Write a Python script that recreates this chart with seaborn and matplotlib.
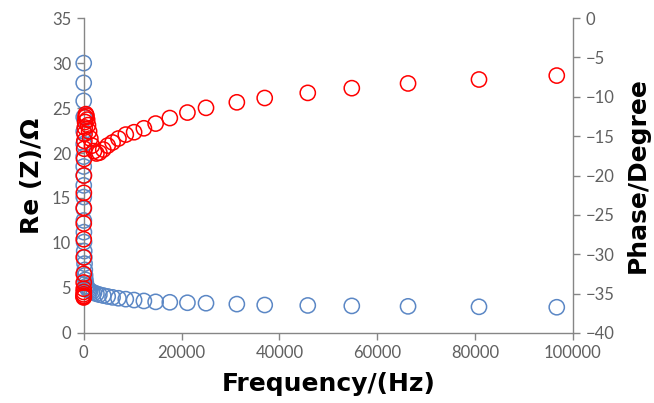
import matplotlib
matplotlib.use("Agg")
import matplotlib.pyplot as plt
import seaborn as sns
import pandas as pd

# frequency (Hz), real part of impedance (ohm), phase (degree)
freq = [0.1, 0.16, 0.25, 0.4, 0.63, 1.0, 1.6, 2.5, 4.0, 6.3,
        10, 16, 25, 40, 63, 100, 130, 170, 220, 280,
        350, 440, 560, 700, 870, 1100, 1350, 1700, 2100, 2600,
        3200, 4000, 4900, 5900, 7100, 8600, 10300, 12300, 14700, 17600,
        21200, 25000, 31300, 37000, 45800, 54800, 66300, 80800, 96700]
re_z = [30.0, 27.8, 25.8, 24.0, 22.4, 21.0, 19.6, 18.5, 17.5, 16.4,
        15.1, 13.8, 12.5, 11.2, 10.1, 9.1, 8.4, 7.7, 7.0, 6.4,
        5.9, 5.5, 5.2, 5.0, 4.85, 4.75, 4.65, 4.55, 4.45, 4.35,
        4.25, 4.15, 4.05, 3.95, 3.85, 3.75, 3.65, 3.55, 3.45, 3.4,
        3.35, 3.3, 3.2, 3.1, 3.05, 3.0, 2.95, 2.9, 2.85]
phase = [-35.5, -35.4, -35.3, -35.1, -34.8, -34.4, -33.6, -32.5, -30.4, -28.1,
         -26.1, -24.1, -22.2, -20.0, -17.9, -16.6, -15.6, -14.7, -13.9, -13.2,
         -12.6, -12.2, -12.4, -12.9, -13.6, -14.4, -15.3, -16.2, -16.9, -17.2,
         -17.1, -16.7, -16.2, -15.8, -15.3, -14.8, -14.5, -14.0, -13.4, -12.7,
         -12.0, -11.4, -10.7, -10.15, -9.5, -8.9, -8.3, -7.8, -7.3]

xticks = [0, 20000, 40000, 60000, 80000, 100000]
left_ticks = [0, 5, 10, 15, 20, 25, 30, 35]
right_ticks = [-40, -35, -30, -25, -20, -15, -10, -5, 0]

df = pd.DataFrame({"freq": freq, "re": re_z, "phase": phase})

sns.set_style("white")
plt.rcParams["font.family"] = ["Lato", "DejaVu Sans"]

grey = "#868686"
tick_col = "#606060"

fig = plt.figure(figsize=(6.54, 4.03), dpi=100)
ax = fig.add_axes([0.128, 0.174, 0.748, 0.781])
ax2 = ax.twinx()

sns.scatterplot(data=df, x="freq", y="re", ax=ax, marker="o", s=120,
                facecolor="none", edgecolor="#5B87C5", linewidth=1.1, clip_on=False)
sns.scatterplot(data=df, x="freq", y="phase", ax=ax2, marker="o", s=120,
                facecolor="none", edgecolor="#FF0000", linewidth=1.1, clip_on=False)

ax.set_xlim(0, 100000)
ax.set_ylim(0, 35)
ax2.set_ylim(-40, 0)
ax.set_xticks(xticks)
ax.set_yticks(left_ticks)
ax2.set_yticks(right_ticks)
ax.set_xticklabels([str(t) for t in xticks])

for a in (ax, ax2):
    a.spines["top"].set_visible(False)
    for s in ("left", "right", "bottom"):
        a.spines[s].set_color(grey)
        a.spines[s].set_linewidth(1.0)
    a.tick_params(colors=grey, labelcolor=tick_col, labelsize=12,
                  direction="out", length=5, width=1.0, pad=4)
ax.spines["right"].set_visible(False)
ax2.spines["left"].set_visible(False)
ax2.spines["bottom"].set_visible(False)
ax.tick_params(axis="x", bottom=True)
ax.tick_params(axis="y", left=True)
ax2.tick_params(axis="y", right=True)

lab = dict(fontsize=18, fontweight="bold", color="black",
           family=["DejaVu Sans"])
ax.set_xlabel("Frequency/(Hz)", labelpad=8, **lab)
ax.set_ylabel("Re (Z)/Ω", labelpad=6, **lab)
ax2.set_ylabel("Phase/Degree", labelpad=8, **lab)

fig.savefig("out.png", dpi=100)
